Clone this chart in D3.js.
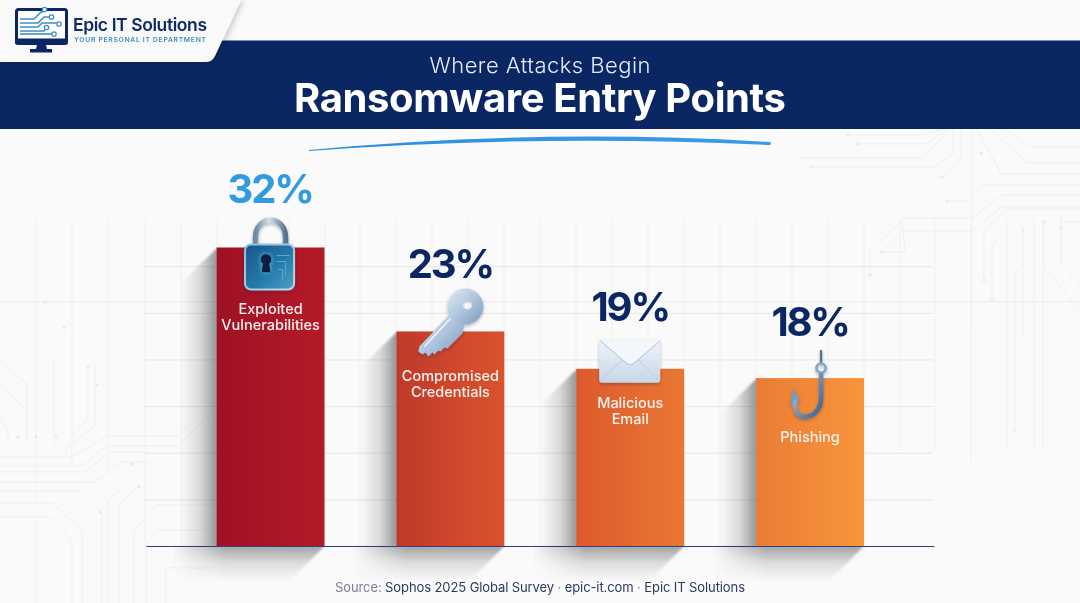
<!DOCTYPE html>
<html><head><meta charset="utf-8">
<script src="https://cdn.jsdelivr.net/npm/d3@7/dist/d3.min.js"></script>
<style>html,body{margin:0;padding:0;background:#fafafa}svg{display:block;font-family:Inter,"Noto Sans",sans-serif}</style>
</head><body><svg id="c" width="1080" height="603" viewBox="0 0 1080 603"></svg>
<script>
const categories = ["Exploited Vulnerabilities","Compromised Credentials","Malicious Email","Phishing"];
const values = [32,23,19,18];
const labelLines = [["Exploited","Vulnerabilities"],["Compromised","Credentials"],["Malicious","Email"],["Phishing"]];
const gridTicks = [5,10,15,20,25,30];
const titleKicker = "Where Attacks Begin";
const titleMain = "Ransomware Entry Points";
const brandName = "Epic IT Solutions";
const brandTag = "YOUR PERSONAL IT DEPARTMENT";

const NAVY="#0b2763", BLUE="#319ae0";
const barStops=[["#9f1124","#b41a28"],["#c0392b","#da532c"],["#dd5a2e","#e97733"],["#ea7c35","#f8953b"]];
const valueGap=[45,53,48,42];      // baseline of the number above the bar top
const labelGap=[66,50,39,64];      // first label baseline below the bar top

const svg=d3.select("#c");
const defs=svg.append("defs");
const x=d3.scaleBand().domain(categories).range([216.6,864]).paddingInner(0.4).paddingOuter(0);
const y=d3.scaleLinear().domain([0,32]).range([546,247.5]);

function lg(id,x1,y1,x2,y2,stops){
  const g=defs.append("linearGradient").attr("id",id).attr("x1",x1).attr("y1",y1).attr("x2",x2).attr("y2",y2);
  stops.forEach(s=>g.append("stop").attr("offset",s[0]).attr("stop-color",s[1]).attr("stop-opacity",s[2]==null?1:s[2]));
}
lg("shL",0,0,1,0,[[0,"#666",0],[.5,"#666",.2],[1,"#444",.58]]);
lg("shB",0,0,0,1,[[0,"#444",.5],[.5,"#666",.18],[1,"#777",0]]);
lg("fade",0,0,1,0,[[0,"#000"],[.35,"#fff"],[1,"#fff"]]);
lg("lockB",0,0,1,1,[[0,"#1a5688"],[.55,"#2478aa"],[1,"#4ea2c4"]]);
lg("lockE",0,0,1,1,[[0,"#8fc0dc"],[1,"#b7d6ea"]]);
lg("metal",0,0,1,1,[[0,"#e2ebf5"],[.5,"#afc6de"],[1,"#7b9bbd"]]);
lg("shack",0,0,1,0,[[0,"#6f8aa3"],[.45,"#d5e1ea"],[1,"#56738f"]]);
lg("env",0,0,0,1,[[0,"#eef3f9"],[1,"#c8d6e8"]]);
lg("hook",0,0,1,1,[[0,"#c6d8e8"],[.5,"#7193b5"],[1,"#3d6189"]]);
lg("under",0,0,1,0,[[0,"#2f8fdc"],[1,"#3a9ce6"]]);
barStops.forEach((s,i)=>lg("bar"+i,0,0,1,0,[[0,s[0]],[1,s[1]]]));
defs.append("mask").attr("id","fadeM").attr("maskContentUnits","objectBoundingBox")
  .append("rect").attr("width",1).attr("height",1).attr("fill","url(#fade)");
defs.append("filter").attr("id","blur").attr("x","-20%").attr("y","-20%").attr("width","140%").attr("height","140%").append("feGaussianBlur").attr("stdDeviation",1.3);
const ds=defs.append("filter").attr("id","ds").attr("x","-30%").attr("y","-30%").attr("width","160%").attr("height","160%");
ds.append("feDropShadow").attr("dx",0).attr("dy",1.5).attr("stdDeviation",1.5).attr("flood-color","#1b2a4a").attr("flood-opacity",.35);
const glow=defs.append("filter").attr("id","glow").attr("x","-80%").attr("y","-80%").attr("width","260%").attr("height","260%");
glow.append("feDropShadow").attr("dx",0).attr("dy",0).attr("stdDeviation",2).attr("flood-color","#5fd4ee").attr("flood-opacity",.9);
const pn=defs.append("filter").attr("id","pn").attr("x","-10%").attr("y","-10%").attr("width","125%").attr("height","125%");
pn.append("feDropShadow").attr("dx",2).attr("dy",1).attr("stdDeviation",3).attr("flood-color","#000").attr("flood-opacity",.22);

svg.append("rect").attr("width",1080).attr("height",603).attr("fill","#fafafa");

/* decorative circuit backdrop */
const deco=svg.append("g").attr("fill","none").attr("stroke-width",1);
[36,72,108,145,181,217,253,289,325,360,396,432,468,504,540,576,612,648,684,720,756,792,828,864,900,935,971,1007,1043].forEach(vx=>{
  const b = vx<=108?(vx==36?500:470):vx<145?500:vx<=935?(vx>864?450:546):(vx==971?462:450);
  deco.append("line").attr("x1",vx).attr("x2",vx).attr("y1",220).attr("y2",b).attr("stroke","#f0f0f1");
});
deco.append("line").attr("x1",0).attr("x2",1080).attr("y1",301.7).attr("y2",301.7).attr("stroke","#e9e9eb");
const traces=[
 "M848 135H921L945 129","M857 144H926L948 129","M812 167H935L953 153V129","M800 158H921L945 135","M942 177L961 158V129",
 "M972 129V330","M977 129L1001 174H1080","M990 129L1027 163H1080","M1005 129L1031 147H1080",
 "M947 201H969L984 185H1080","M882 252H905L902 218H973L1001 195H1080","M870 275V253L902 220","M882 252L903 231H972L1001 207H1080",
 "M984 280V231L1006 209H1080","M992 299V245L1019 218","M1023 338V280L1023 230","M1015 430V274L1024 262","M1044 222V268L1080 310",
 "M1061 217V264L1080 285","M1034 220V450","M1063 222H1080",
 "M0 457H72L107 436H177L200 415","M0 466H80L107 446H177L210 415","M0 472H85L110 452H148","M0 482H95L120 462H150",
 "M0 491H80L102 513V603","M0 503H52L82 530V603","M0 517H50L72 540V603","M36 603V520","M108 603V500L120 490","M119 603V505L139 486",
 "M134 603V530L157 505H215","M146 603V545L158 530H215","M166 603V568H215",
 "M0 385L26 410V440","M0 418L8 430V440","M27 382V440","M54 360V445","M88 367V420","M95 365V425L65 450",
 "M1 360L26 384","M70 438L87 420"
];
traces.forEach(d=>deco.append("path").attr("d",d).attr("stroke","#efeff0"));
[[848,135],[857,144],[812,167],[942,177],[981,153],[947,201],[882,252],[870,275],[984,280],[992,299],[1023,230],[1044,222],[1061,228],[1015,430],
 [45,303],[64,327],[88,367],[97,385],[36,437],[18,437],[56,437],[132,464],[100,512],[139,487]].forEach(p=>
  deco.append("circle").attr("cx",p[0]).attr("cy",p[1]).attr("r",1.8).attr("fill","#ebebed").attr("stroke","none"));

/* grid from the value scale */
const grid=svg.append("g").attr("transform","translate(145,0)")
  .call(d3.axisLeft(y).tickValues(gridTicks).tickSize(-788).tickFormat(""));
grid.select(".domain").remove();
grid.selectAll("line").attr("stroke","#e5e5e7");

/* shadows */
const marks=svg.append("g");
categories.forEach((c,i)=>{
  const L=x(c),R=L+x.bandwidth(),T=y(values[i]),B=y(0),d=36;
  const g=marks.append("g").attr("filter","url(#blur)");
  g.append("path").attr("d",`M${L+1} ${T}L${L-d} ${T+d}V${B}H${L+1}Z`).attr("fill","url(#shL)");
  g.append("path").attr("d",`M${L-d-8} ${B}H${R}L${R-d} ${B+d}H${L-d-8}Z`).attr("fill","url(#shB)").attr("mask","url(#fadeM)");
});

/* bars */
svg.append("g").selectAll("rect").data(values).join("rect")
  .attr("x",(d,i)=>x(categories[i])).attr("width",x.bandwidth())
  .attr("y",d=>y(d)).attr("height",d=>y(0)-y(d))
  .attr("fill",(d,i)=>`url(#bar${i})`);

/* axis baseline */
const ax=svg.append("g").attr("transform",`translate(0,${y(0)})`)
  .call(d3.axisBottom(d3.scaleLinear().domain([0,1]).range([146,934])).tickValues([]).tickSize(0));
ax.select(".domain").attr("stroke","#2c3c80").attr("stroke-width",1.2);

/* icons, placed relative to each bar's centre and top */
const icons=svg.append("g");
function place(i){return icons.append("g").attr("transform",`translate(${x(categories[i])+x.bandwidth()/2},${y(values[i])})`);}
// lock
{const g=place(0).attr("filter","url(#ds)");
 g.append("path").attr("d","M-15 0V-10C-15 -33 15 -33 15 -10V0").attr("fill","none").attr("stroke","url(#shack)").attr("stroke-width",5.5);
 g.append("rect").attr("x",-25.5).attr("y",-3).attr("width",49).attr("height",45).attr("rx",6).attr("fill","url(#lockB)").attr("stroke","url(#lockE)").attr("stroke-width",2);
 g.append("path").attr("d","M-10 12a5.5 5.5 0 1 1 9 4.2L0 25H-9L-8 16.2A5.5 5.5 0 0 1 -10 12Z").attr("fill","#081f3f").attr("filter","url(#glow)");
 g.append("path").attr("d","M6 8H19M6 14H15V28M8 22H12V33").attr("fill","none").attr("stroke","#6fbcd4").attr("stroke-width",.9).attr("opacity",.8);
}
// key
{const g=place(1).attr("filter","url(#ds)");
 g.append("path").attr("d","M3 -21L-31 15L-32 20L-28 23L-25 21L-22 25L-18 21L-16 23L-12 19L-10 20L-6 16L-3 17L12 2L14 -7Z").attr("fill","url(#metal)");
 g.append("path").attr("fill-rule","evenodd").attr("d","M-3 -25a18 18 0 1 0 36 0a18 18 0 1 0 -36 0ZM12 -27a5 5 0 1 1 10 0a5 5 0 1 1 -10 0Z").attr("fill","url(#metal)");
 g.append("path").attr("d","M0 -13L-26 15").attr("stroke","#f0f4f9").attr("stroke-width",1.6);
}
// envelope
{const g=place(2).attr("filter","url(#ds)");
 g.append("rect").attr("x",-31).attr("y",-29).attr("width",61).attr("height",43).attr("rx",3).attr("fill","url(#env)");
 g.append("path").attr("d","M-30 -28L-3 -5Q0 -3 3 -5L30 -28").attr("fill","#f3f6fa").attr("stroke","#aebfd6").attr("stroke-width",1);
 g.append("path").attr("d","M-30 13L-8 -9M30 13L8 -9").attr("fill","none").attr("stroke","#b6c6da").attr("stroke-width",.8);
}
// hook
{const g=place(3).attr("filter","url(#ds)");
 g.append("path").attr("d","M11 -28V-14").attr("stroke","#55728f").attr("stroke-width",2.2);
 g.append("circle").attr("cx",11).attr("cy",-10).attr("r",4.6).attr("fill","none").attr("stroke","#86a5c2").attr("stroke-width",2.6);
 g.append("path").attr("d","M11 -5V20C11 36 -2 40 -9 38C-14 36 -16 30 -15 20").attr("fill","none").attr("stroke","url(#hook)").attr("stroke-width",4.6);
 g.append("path").attr("d","M-17 10L-9 24L-15 21L-20 28Z").attr("fill","#7c9aba");
}

/* value labels */
svg.append("g").selectAll("text").data(values).join("text")
  .attr("x",(d,i)=>x(categories[i])+x.bandwidth()/2+(i==0?-.5:0)).attr("y",(d,i)=>y(d)-valueGap[i])
  .attr("text-anchor","middle").attr("font-size",40).attr("font-weight",700).attr("letter-spacing",-2.2)
  .attr("fill",(d,i)=>i==0?BLUE:NAVY).text(d=>d+"%");

/* bar labels */
const lab=svg.append("g").attr("fill","#fbf3ef").attr("font-size",14.5).attr("font-weight",500).attr("text-anchor","middle");
labelLines.forEach((ls,i)=>ls.forEach((t,k)=>lab.append("text")
  .attr("x",x(categories[i])+x.bandwidth()/2).attr("y",y(values[i])+labelGap[i]+k*16).text(t)));

/* header */
svg.append("rect").attr("y",40.5).attr("width",1080).attr("height",88.5).attr("fill",NAVY);
svg.append("text").attr("x",540).attr("y",73).attr("text-anchor","middle").attr("font-size",22).attr("font-weight",300).attr("fill","#e3ecf8").attr("textLength",221).text(titleKicker);
svg.append("text").attr("x",540).attr("y",112).attr("text-anchor","middle").attr("font-size",40).attr("font-weight",700).attr("fill","#fff").attr("textLength",492).text(titleMain);
svg.append("path").attr("d","M309 150Q540 128 770 142Q772 143.5 770 145Q540 134 309 151Z").attr("fill","url(#under)");

/* logo panel */
svg.append("path").attr("d","M0 0H241L215 56Q212 62 206 62H0Z").attr("fill","#f9f9f9").attr("filter","url(#pn)");
const lg2=svg.append("g");
lg2.append("rect").attr("x",16.5).attr("y",9.5).attr("width",50).attr("height",34).attr("rx",2).attr("fill","#fff").attr("stroke",NAVY).attr("stroke-width",3);
lg2.append("rect").attr("x",15).attr("y",38.5).attr("width",53).attr("height",6).attr("rx",2).attr("fill",NAVY);
lg2.append("path").attr("d","M37 45H46L47 49H52V52.5H30V49H36Z").attr("fill",NAVY);
lg2.append("g").attr("fill","none").attr("stroke","#3f8fc9").attr("stroke-width",1.6)
  .selectAll("path").data(["M20 19H34L41 12H43","M20 23H38L44 17H49","M20 27H38L42 23H57","M20 31H37H44L46 27","M20 34H42L46 34H52"])
  .join("path").attr("d",d=>d);
lg2.append("g").attr("fill","#fff").attr("stroke","#3f8fc9").attr("stroke-width",1.3)
  .selectAll("circle").data([[44.5,9.5],[51.5,17],[59,24],[46.5,27.5],[54,34]])
  .join("circle").attr("cx",d=>d[0]).attr("cy",d=>d[1]).attr("r",2.2);
svg.append("text").attr("x",73).attr("y",31).attr("font-size",17.5).attr("font-weight",600).attr("fill","#0f2a66").attr("textLength",134).text(brandName);
svg.append("text").attr("x",74).attr("y",42).attr("font-size",6.8).attr("font-weight",600).attr("fill","#3f8cc2").attr("textLength",132).text(brandTag);

/* source */
const src=svg.append("text").attr("x",540).attr("y",592).attr("text-anchor","middle").attr("font-size",13).attr("fill","#2d3a5e").attr("textLength",410);
src.append("tspan").attr("fill","#7a808e").text("Source: ");
src.append("tspan").text("Sophos 2025 Global Survey ");
src.append("tspan").attr("fill","#7a808e").text("· ");
src.append("tspan").text("epic-it.com ");
src.append("tspan").attr("fill","#7a808e").text("· ");
src.append("tspan").text("Epic IT Solutions");
</script></body></html>
